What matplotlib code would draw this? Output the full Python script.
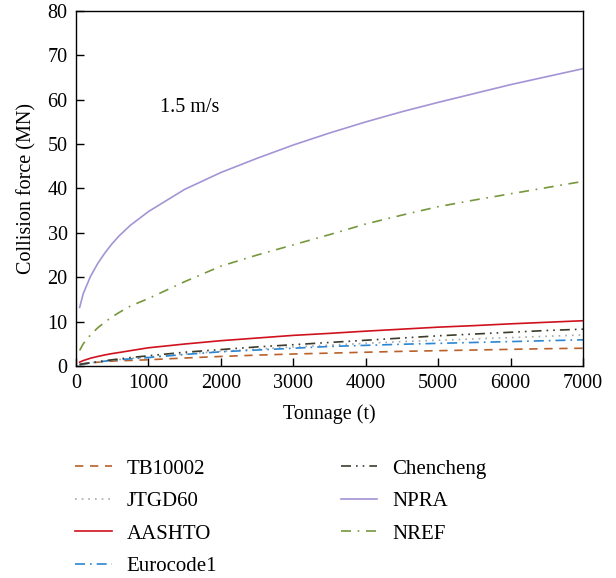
import numpy as np
import matplotlib
matplotlib.use("Agg")
import matplotlib.pyplot as plt

tonnage = [50, 100, 200, 300, 400, 500, 600, 750, 1000, 1500, 2000, 2500, 3000,
           3500, 4000, 4500, 5000, 5500, 6000, 6500, 7000]

# collision force (MN) at 1.5 m/s
tb10002 = [0.35, 0.5, 0.7, 0.85, 0.98, 1.1, 1.18, 1.25, 1.4, 1.8, 2.15, 2.45, 2.7,
           2.9, 3.1, 3.3, 3.45, 3.6, 3.75, 3.9, 4.0]
jtgd60 = [0.3, 0.45, 0.7, 0.9, 1.1, 1.3, 1.45, 1.7, 2.0, 2.7, 3.3, 3.8, 4.3,
          4.7, 5.1, 5.5, 5.8, 6.1, 6.4, 6.7, 7.0]
aashto = [0.86, 1.22, 1.75, 2.15, 2.5, 2.8, 3.05, 3.45, 4.1, 4.95, 5.7, 6.3, 6.9,
          7.35, 7.85, 8.3, 8.75, 9.1, 9.5, 9.85, 10.2]
eurocode1 = [0.3, 0.45, 0.7, 0.9, 1.1, 1.3, 1.42, 1.6, 1.9, 2.6, 3.2, 3.6, 4.0,
             4.4, 4.65, 4.9, 5.1, 5.3, 5.5, 5.7, 5.9]
chencheng = [0.3, 0.5, 0.7, 0.95, 1.2, 1.4, 1.6, 1.9, 2.3, 3.1, 3.7, 4.3, 4.8,
             5.3, 5.8, 6.3, 6.8, 7.2, 7.6, 8.0, 8.3]
npra = [13.2, 16.3, 20.2, 23.1, 25.5, 27.6, 29.4, 31.7, 34.8, 39.8, 43.6, 46.8, 49.8,
        52.5, 55.0, 57.3, 59.4, 61.4, 63.4, 65.2, 67.0]
nref = [3.5, 5.0, 7.0, 8.6, 9.9, 11.1, 12.1, 13.5, 15.2, 19.0, 22.5, 25.0, 27.3,
        29.6, 32.0, 34.0, 35.9, 37.4, 38.8, 40.2, 41.6]

plt.rcParams['font.family'] = ['Liberation Serif', 'DejaVu Serif']
plt.rcParams['font.size'] = 14.5

fig = plt.figure(figsize=(6.16, 5.78), dpi=100)
ax = fig.add_axes([0.1234, 0.3668, 0.8230, 0.6142])

# (label, data, colour, linestyle)
series = [
    ("TB10002", tb10002, "#b8612a", (0, (5, 4))),
    ("JTGD60", jtgd60, "#a8a8a8", (0, (1, 3))),
    ("AASHTO", aashto, "#d0121e", "-"),
    ("Eurocode1", eurocode1, "#2a86d2", (0, (6, 3, 1, 3))),
    ("Chencheng", chencheng, "#3c3c2c", (0, (6, 3, 1, 3, 1, 3))),
    ("NPRA", npra, "#a494d6", "-"),
    ("NREF", nref, "#76973c", (0, (6, 4, 1, 4))),
]
for label, vals, col, ls in series:
    ax.plot(tonnage, vals, color=col, linestyle=ls, linewidth=1.2, label=label)

ax.set_xlim(0, 7000)
ax.set_ylim(0, 80)
ax.set_xticks(np.arange(0, 7001, 1000))
ax.set_yticks(np.arange(0, 81, 10))
ax.tick_params(direction="in", length=6, width=1, pad=6)
for sp in ax.spines.values():
    sp.set_linewidth(1.0)

ax.set_xlabel("Tonnage (t)", labelpad=8)
ax.set_ylabel("Collision force (MN)", labelpad=8)
ax.text(1160, 58.2, "1.5 m/s", ha="left", va="center")

fig.legend(loc="upper left", bbox_to_anchor=(0.092, 0.238), ncol=2,
           frameon=False, fontsize=15, handlelength=1.75, handletextpad=0.7,
           columnspacing=5.95, labelspacing=0.62)

fig.savefig("out.png", dpi=100)
